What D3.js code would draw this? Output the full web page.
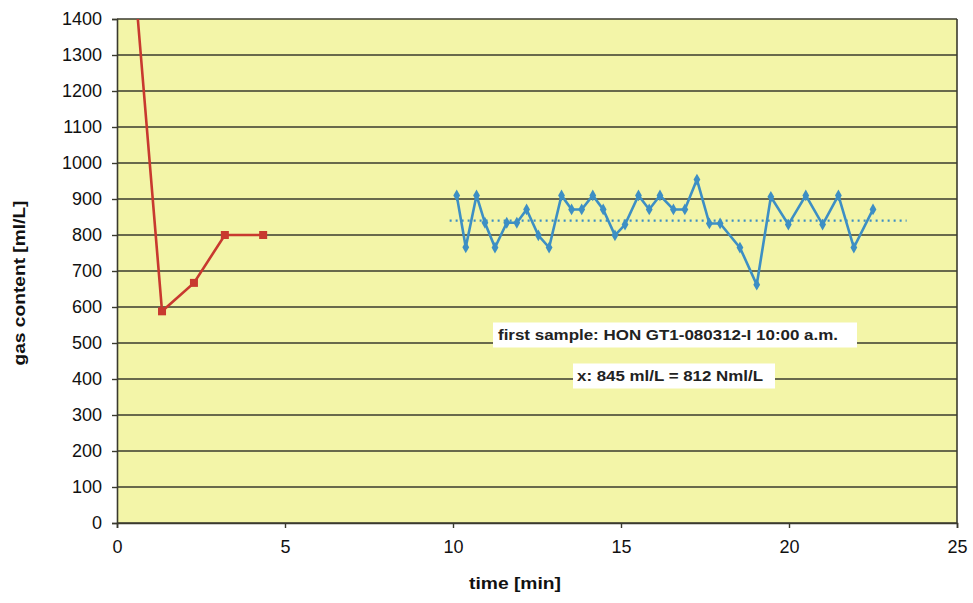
<!DOCTYPE html>
<html>
<head>
<meta charset="utf-8">
<script src="https://cdn.jsdelivr.net/npm/d3@7"></script>
<style>
  body { margin: 0; background: #fff; }
  svg { font-family: Arial, "Liberation Sans", sans-serif; }
</style>
</head>
<body>
<svg id="chart" width="973" height="603"></svg>
<script>
// red series (first measurements)
var redTime = [0.62, 1.34, 2.29, 3.21, 4.35];
var redGas = [1400, 588, 667, 800, 800];

// blue series (continuous sampling)
var blueTime = [10.11, 10.38, 10.7, 10.95, 11.25, 11.6, 11.9, 12.19, 12.54, 12.86,
  13.23, 13.53, 13.83, 14.16, 14.47, 14.82, 15.12, 15.52, 15.84, 16.16, 16.56, 16.9,
  17.26, 17.63, 17.95, 18.54, 19.04, 19.46, 19.98, 20.5, 21.0, 21.47, 21.93, 22.5];
var blueGas = [910, 766, 910, 834, 765, 834, 834, 871, 799, 765,
  910, 871, 871, 910, 871, 799, 829, 910, 871, 910, 871, 871,
  954, 832, 832, 765, 662, 906, 829, 910, 829, 910, 765, 871];

// mean line
var meanTime = [9.9, 23.5];
var meanGas = 840;

var xTicks = [0, 5, 10, 15, 20, 25];
var yTicks = d3.range(0, 1401, 100);

var svg = d3.select('#chart');
var margin = { top: 19, right: 16, bottom: 80, left: 117 };
var width = 973 - margin.left - margin.right;
var height = 603 - margin.top - margin.bottom;

var x = d3.scaleLinear().domain([0, 25]).range([0, width]);
var y = d3.scaleLinear().domain([0, 1400]).range([height, 0]);

var g = svg.append('g')
  .attr('transform', 'translate(' + margin.left + ',' + margin.top + ')');

// plot background
g.append('rect')
  .attr('width', width)
  .attr('height', height)
  .attr('fill', '#f3f5a8');

// horizontal grid
g.selectAll('.grid')
  .data(yTicks)
  .enter()
  .append('line')
  .attr('x1', 0)
  .attr('x2', width)
  .attr('y1', d => y(d))
  .attr('y2', d => y(d))
  .attr('stroke', '#3a3a2e')
  .attr('stroke-width', 1.6);

// right border
g.append('line')
  .attr('x1', width).attr('x2', width)
  .attr('y1', 0).attr('y2', height)
  .attr('stroke', '#3a3a2e')
  .attr('stroke-width', 1.6);

// axes
var yAxis = g.append('g')
  .call(d3.axisLeft(y).tickValues(yTicks).tickFormat(d3.format('d')).tickSize(5).tickPadding(10));
var xAxis = g.append('g')
  .attr('transform', 'translate(0,' + height + ')')
  .call(d3.axisBottom(x).tickValues(xTicks).tickFormat(d3.format('d')).tickSize(5).tickPadding(12));

[xAxis, yAxis].forEach(function (a) {
  a.select('.domain').attr('stroke', '#3a3a2e').attr('stroke-width', 1.6);
  a.selectAll('.tick line').attr('stroke', '#3a3a2e').attr('stroke-width', 1.4);
  a.selectAll('.tick text')
    .attr('font-size', 18)
    .attr('fill', '#111')
    .attr('font-family', 'Arial, "Liberation Sans", sans-serif');
});

// axis titles
svg.append('text')
  .attr('transform', 'rotate(-90)')
  .attr('x', -283)
  .attr('y', 25)
  .attr('text-anchor', 'middle')
  .attr('font-size', 16)
  .attr('font-weight', 'bold')
  .attr('fill', '#111')
  .attr('textLength', 165)
  .attr('lengthAdjust', 'spacingAndGlyphs')
  .text('gas content [ml/L]');

svg.append('text')
  .attr('x', 515)
  .attr('y', 589)
  .attr('text-anchor', 'middle')
  .attr('font-size', 17)
  .attr('font-weight', 'bold')
  .attr('fill', '#111')
  .attr('textLength', 92)
  .attr('lengthAdjust', 'spacingAndGlyphs')
  .text('time [min]');

// mean dotted line
g.append('line')
  .attr('x1', x(meanTime[0]))
  .attr('x2', x(meanTime[1]))
  .attr('y1', y(meanGas))
  .attr('y2', y(meanGas))
  .attr('stroke', '#3d8fc4')
  .attr('stroke-width', 2.2)
  .attr('stroke-dasharray', '2,4');

var redData = redTime.map((t, i) => ({ t: t, v: redGas[i] }));
var blueData = blueTime.map((t, i) => ({ t: t, v: blueGas[i] }));

var line = d3.line()
  .x(d => x(d.t))
  .y(d => y(d.v));

// red line
g.append('path')
  .datum(redData)
  .attr('fill', 'none')
  .attr('stroke', '#c8392f')
  .attr('stroke-width', 2.6)
  .attr('d', line);

g.selectAll('.redpt')
  .data(redData.slice(1))
  .enter()
  .append('rect')
  .attr('x', d => x(d.t) - 4)
  .attr('y', d => y(d.v) - 4)
  .attr('width', 8)
  .attr('height', 8)
  .attr('fill', '#c8392f');

// blue line
g.append('path')
  .datum(blueData)
  .attr('fill', 'none')
  .attr('stroke', '#3d8fc4')
  .attr('stroke-width', 2.6)
  .attr('d', line);

g.selectAll('.bluept')
  .data(blueData)
  .enter()
  .append('path')
  .attr('transform', d => 'translate(' + x(d.t) + ',' + y(d.v) + ')')
  .attr('d', d3.symbol().type(d3.symbolDiamond).size(40))
  .attr('fill', '#3d8fc4');

// annotation boxes
var notes = [
  { text: 'first sample: HON GT1-080312-I 10:00 a.m.', cx: 675, cy: 335, w: 364, h: 25, tx: 498, len: 340 },
  { text: 'x: 845 ml/L  = 812 Nml/L', cx: 674, cy: 376, w: 202, h: 25, tx: 577, len: 186 }
];

notes.forEach(function (n) {
  svg.append('rect')
    .attr('x', n.cx - n.w / 2)
    .attr('y', n.cy - n.h / 2)
    .attr('width', n.w)
    .attr('height', n.h)
    .attr('fill', '#ffffff');
  svg.append('text')
    .attr('x', n.tx)
    .attr('y', n.cy + 5)
    .attr('font-size', 14)
    .attr('font-weight', 'bold')
    .attr('fill', '#222')
    .attr('textLength', n.len)
    .attr('lengthAdjust', 'spacingAndGlyphs')
    .text(n.text);
});
</script>
</body>
</html>
